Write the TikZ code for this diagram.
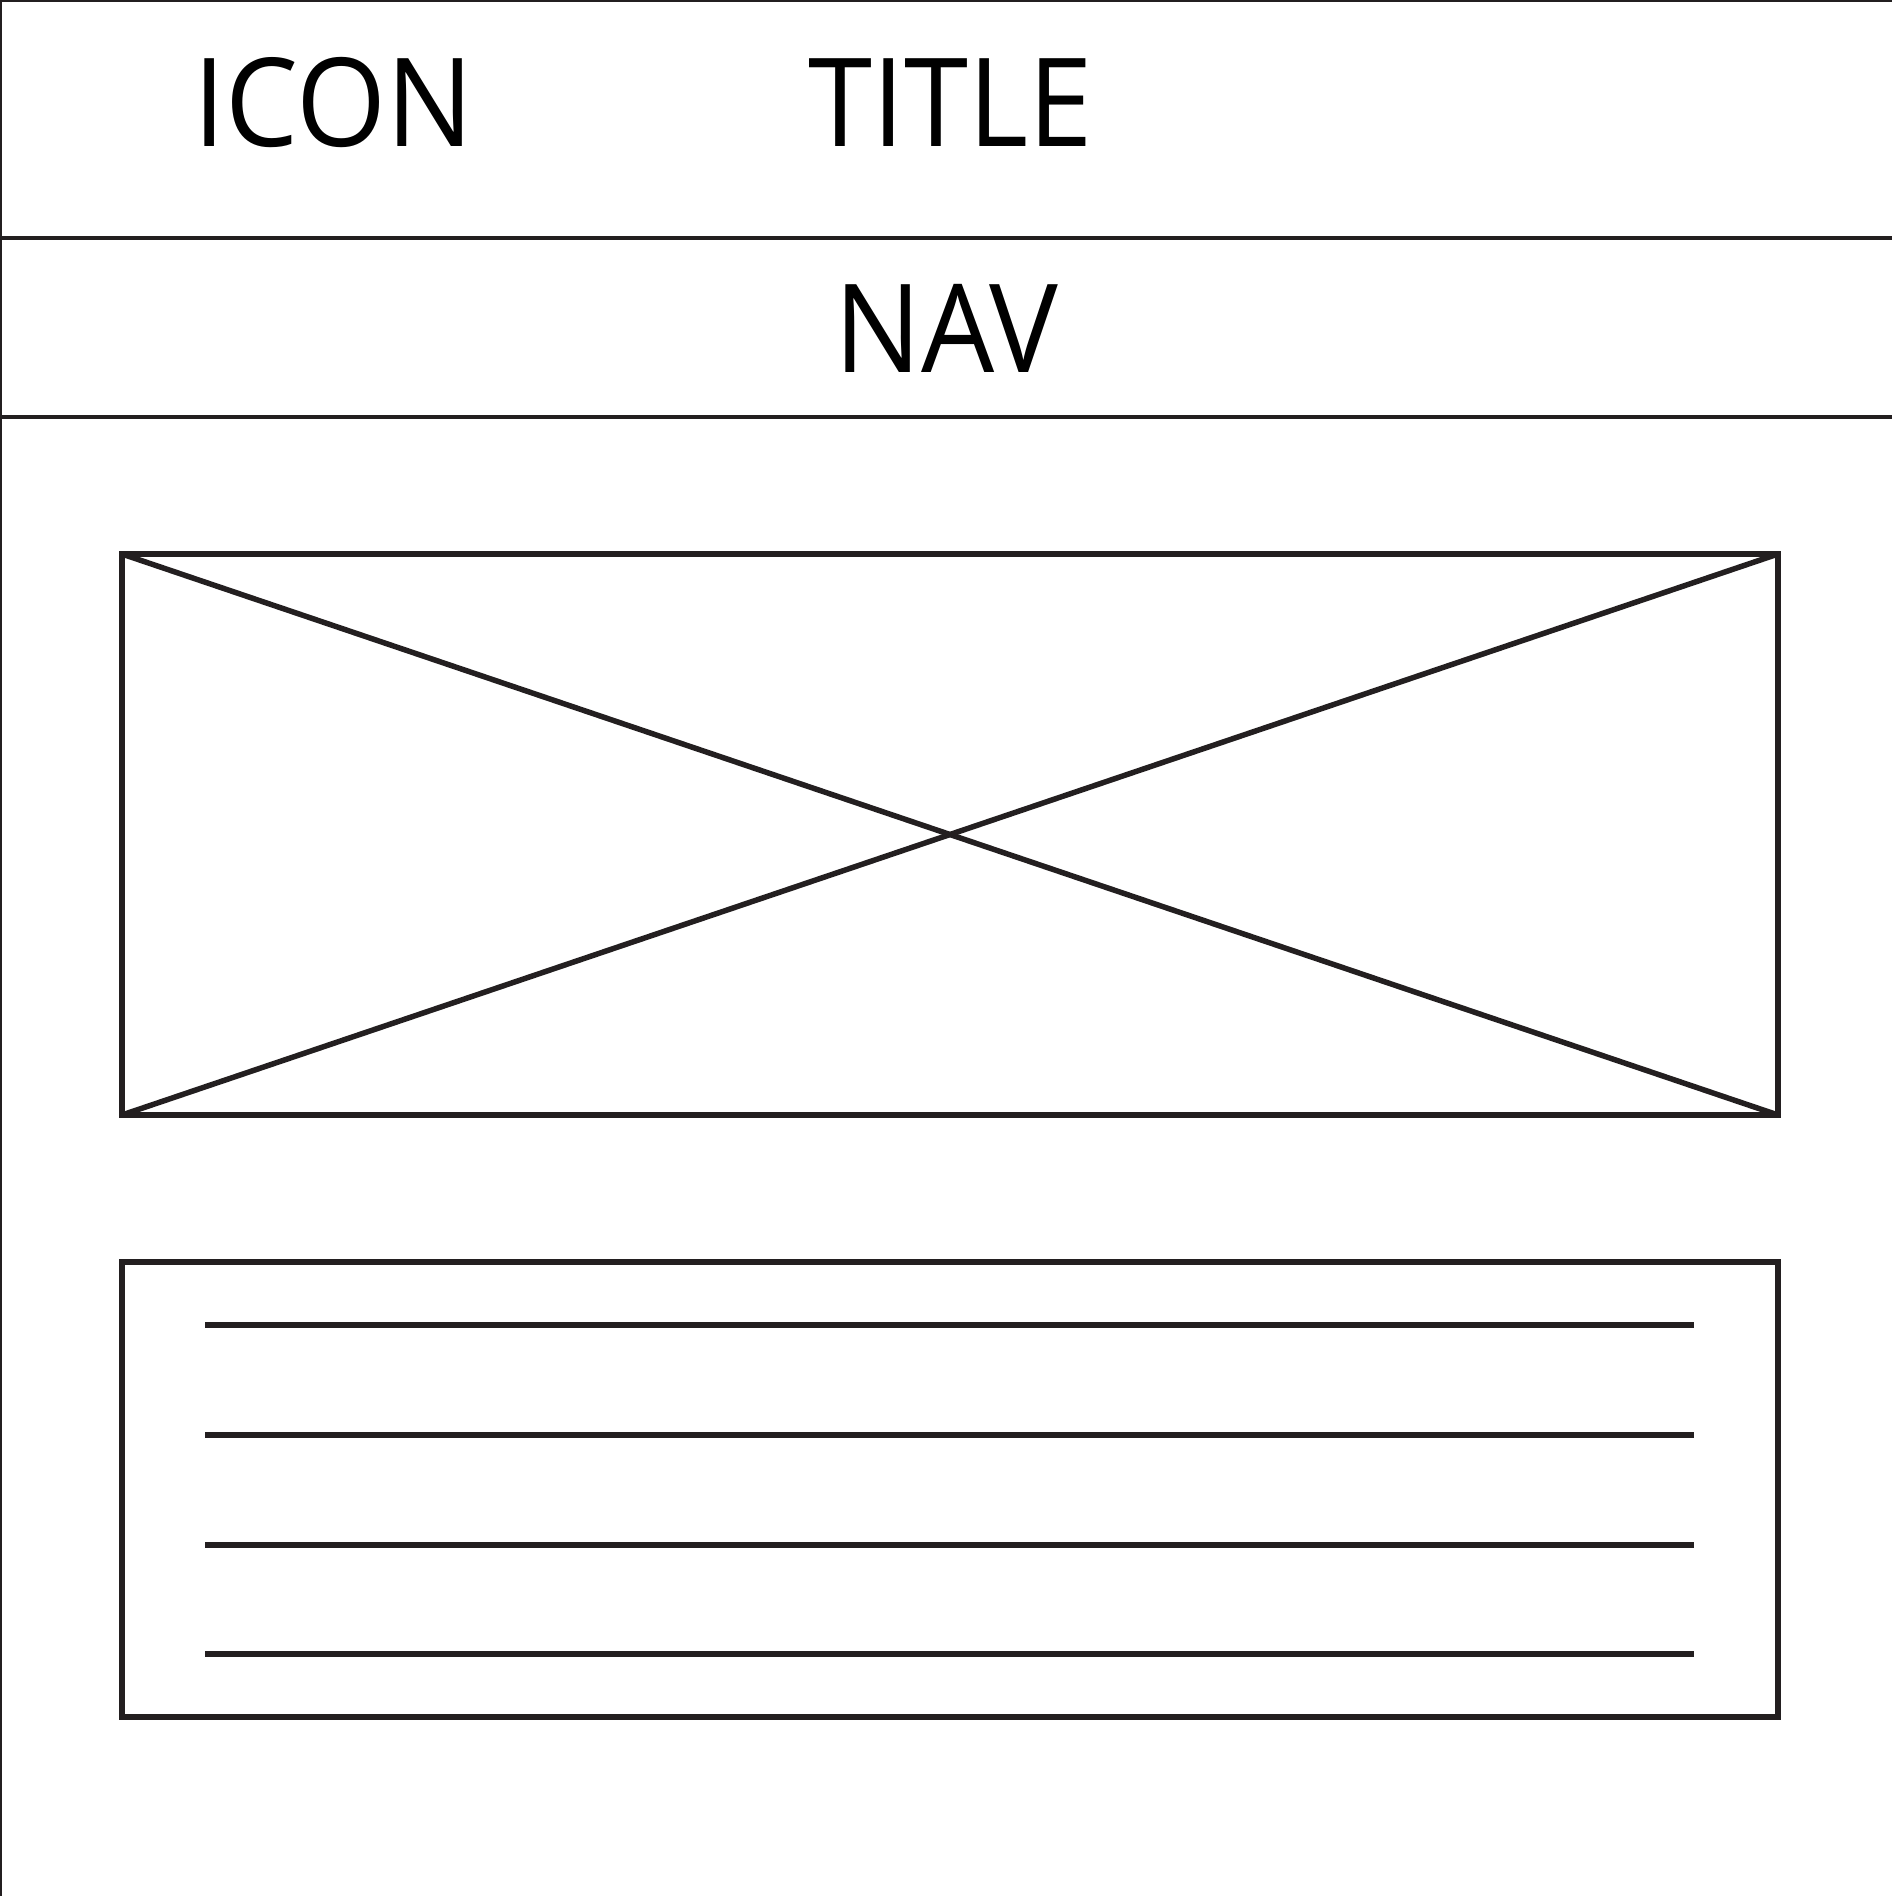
\documentclass[tikz,border=0pt]{standalone}
\usepackage{fontspec}
\setmainfont{Open Sans}
\definecolor{ink}{HTML}{231F20}
\newcommand{\narrowtext}[1]{\scalebox{0.94}[1]{#1}}
\begin{document}
\begin{tikzpicture}[x=1pt,y=-1pt,
  frame/.style={draw=ink,line width=6.5pt},
  diag/.style={draw=ink,line width=5.5pt},
  textline/.style={draw=ink,line width=6.5pt},
  sep/.style={draw=ink,line width=3.5pt},
  label/.style={inner sep=0pt,anchor=base west,font=\fontsize{123}{123}\selectfont,text=black}]
\useasboundingbox[fill=white] (0,0) rectangle (1892,1896);
% page borders
\draw[ink,line width=2pt] (1,1896) -- (1,1) -- (1892,1);
\draw[sep] (0,238) -- (1892,238);
\draw[sep] (0,417) -- (1892,417);
% header texts
\node[label] (icon) at (193,146) {\narrowtext{ICON}};
\node[label] (title) at (808,146) {\narrowtext{TITLE}};
\node[label] (nav) at (834,372) {\narrowtext{NAV}};
% image placeholder
\coordinate (imgTL) at (122,554);
\coordinate (imgBR) at (1778,1115);
\draw[frame] (imgTL) rectangle (imgBR);
\draw[diag] (imgTL) -- (imgBR);
\draw[diag] (imgTL |- imgBR) -- (imgBR |- imgTL);
% text box
\coordinate (txtTL) at (122,1262);
\coordinate (txtBR) at (1778,1717);
\draw[frame] (txtTL) rectangle (txtBR);
\foreach \y/\n in {1325/a,1435/b,1545/c,1654/d}{
  \coordinate (l\n) at (205,\y);
  \coordinate (r\n) at (1694,\y);
  \draw[textline] (l\n) -- (r\n);
}
\end{tikzpicture}
\end{document}
